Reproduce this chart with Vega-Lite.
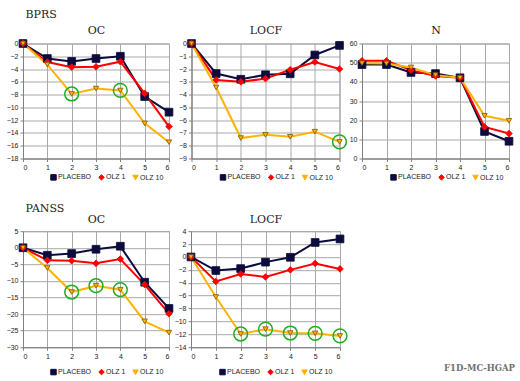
{
  "$schema": "https://vega.github.io/schema/vega-lite/v6.json",
  "background": "white",
  "padding": {"left": 5, "top": 7.5, "right": 5, "bottom": 5},
  "datasets": {
    "d": [
      {"p":"BPRS OC","g":"PLACEBO","w":0,"v":0,"c":0},
      {"p":"BPRS OC","g":"PLACEBO","w":1,"v":-2.35,"c":0},
      {"p":"BPRS OC","g":"PLACEBO","w":2,"v":-2.8,"c":0},
      {"p":"BPRS OC","g":"PLACEBO","w":3,"v":-2.35,"c":0},
      {"p":"BPRS OC","g":"PLACEBO","w":4,"v":-2.0,"c":0},
      {"p":"BPRS OC","g":"PLACEBO","w":5,"v":-8.3,"c":0},
      {"p":"BPRS OC","g":"PLACEBO","w":6,"v":-10.75,"c":0},
      {"p":"BPRS OC","g":"OLZ 1","w":0,"v":0,"c":0},
      {"p":"BPRS OC","g":"OLZ 1","w":1,"v":-2.9,"c":0},
      {"p":"BPRS OC","g":"OLZ 1","w":2,"v":-3.7,"c":0},
      {"p":"BPRS OC","g":"OLZ 1","w":3,"v":-3.65,"c":0},
      {"p":"BPRS OC","g":"OLZ 1","w":4,"v":-2.85,"c":0},
      {"p":"BPRS OC","g":"OLZ 1","w":5,"v":-7.8,"c":0},
      {"p":"BPRS OC","g":"OLZ 1","w":6,"v":-13.0,"c":0},
      {"p":"BPRS OC","g":"OLZ 10","w":0,"v":0,"c":0},
      {"p":"BPRS OC","g":"OLZ 10","w":1,"v":-3.3,"c":0},
      {"p":"BPRS OC","g":"OLZ 10","w":2,"v":-7.9,"c":1},
      {"p":"BPRS OC","g":"OLZ 10","w":3,"v":-7.05,"c":0},
      {"p":"BPRS OC","g":"OLZ 10","w":4,"v":-7.35,"c":1},
      {"p":"BPRS OC","g":"OLZ 10","w":5,"v":-12.5,"c":0},
      {"p":"BPRS OC","g":"OLZ 10","w":6,"v":-15.45,"c":0},

      {"p":"BPRS LOCF","g":"PLACEBO","w":0,"v":0,"c":0},
      {"p":"BPRS LOCF","g":"PLACEBO","w":1,"v":-2.35,"c":0},
      {"p":"BPRS LOCF","g":"PLACEBO","w":2,"v":-2.8,"c":0},
      {"p":"BPRS LOCF","g":"PLACEBO","w":3,"v":-2.45,"c":0},
      {"p":"BPRS LOCF","g":"PLACEBO","w":4,"v":-2.37,"c":0},
      {"p":"BPRS LOCF","g":"PLACEBO","w":5,"v":-0.9,"c":0},
      {"p":"BPRS LOCF","g":"PLACEBO","w":6,"v":-0.15,"c":0},
      {"p":"BPRS LOCF","g":"OLZ 1","w":0,"v":0,"c":0},
      {"p":"BPRS LOCF","g":"OLZ 1","w":1,"v":-2.85,"c":0},
      {"p":"BPRS LOCF","g":"OLZ 1","w":2,"v":-3.0,"c":0},
      {"p":"BPRS LOCF","g":"OLZ 1","w":3,"v":-2.75,"c":0},
      {"p":"BPRS LOCF","g":"OLZ 1","w":4,"v":-2.05,"c":0},
      {"p":"BPRS LOCF","g":"OLZ 1","w":5,"v":-1.45,"c":0},
      {"p":"BPRS LOCF","g":"OLZ 1","w":6,"v":-2.0,"c":0},
      {"p":"BPRS LOCF","g":"OLZ 10","w":0,"v":0,"c":0},
      {"p":"BPRS LOCF","g":"OLZ 10","w":1,"v":-3.45,"c":0},
      {"p":"BPRS LOCF","g":"OLZ 10","w":2,"v":-7.4,"c":0},
      {"p":"BPRS LOCF","g":"OLZ 10","w":3,"v":-7.15,"c":0},
      {"p":"BPRS LOCF","g":"OLZ 10","w":4,"v":-7.3,"c":0},
      {"p":"BPRS LOCF","g":"OLZ 10","w":5,"v":-6.9,"c":0},
      {"p":"BPRS LOCF","g":"OLZ 10","w":6,"v":-7.7,"c":1},

      {"p":"N","g":"PLACEBO","w":0,"v":49,"c":0},
      {"p":"N","g":"PLACEBO","w":1,"v":49,"c":0},
      {"p":"N","g":"PLACEBO","w":2,"v":44.9,"c":0},
      {"p":"N","g":"PLACEBO","w":3,"v":44.3,"c":0},
      {"p":"N","g":"PLACEBO","w":4,"v":42.1,"c":0},
      {"p":"N","g":"PLACEBO","w":5,"v":14.1,"c":0},
      {"p":"N","g":"PLACEBO","w":6,"v":9.0,"c":0},
      {"p":"N","g":"OLZ 1","w":0,"v":51,"c":0},
      {"p":"N","g":"OLZ 1","w":1,"v":51,"c":0},
      {"p":"N","g":"OLZ 1","w":2,"v":46.1,"c":0},
      {"p":"N","g":"OLZ 1","w":3,"v":43.1,"c":0},
      {"p":"N","g":"OLZ 1","w":4,"v":42.1,"c":0},
      {"p":"N","g":"OLZ 1","w":5,"v":16.5,"c":0},
      {"p":"N","g":"OLZ 1","w":6,"v":13.0,"c":0},
      {"p":"N","g":"OLZ 10","w":0,"v":49.7,"c":0},
      {"p":"N","g":"OLZ 10","w":1,"v":49.6,"c":0},
      {"p":"N","g":"OLZ 10","w":2,"v":47.5,"c":0},
      {"p":"N","g":"OLZ 10","w":3,"v":43.5,"c":0},
      {"p":"N","g":"OLZ 10","w":4,"v":42.1,"c":0},
      {"p":"N","g":"OLZ 10","w":5,"v":22.3,"c":0},
      {"p":"N","g":"OLZ 10","w":6,"v":19.7,"c":0},

      {"p":"PANSS OC","g":"PLACEBO","w":0,"v":0,"c":0},
      {"p":"PANSS OC","g":"PLACEBO","w":1,"v":-2.26,"c":0},
      {"p":"PANSS OC","g":"PLACEBO","w":2,"v":-1.75,"c":0},
      {"p":"PANSS OC","g":"PLACEBO","w":3,"v":-0.45,"c":0},
      {"p":"PANSS OC","g":"PLACEBO","w":4,"v":0.46,"c":0},
      {"p":"PANSS OC","g":"PLACEBO","w":5,"v":-10.4,"c":0},
      {"p":"PANSS OC","g":"PLACEBO","w":6,"v":-18.3,"c":0},
      {"p":"PANSS OC","g":"OLZ 1","w":0,"v":0,"c":0},
      {"p":"PANSS OC","g":"OLZ 1","w":1,"v":-3.8,"c":0},
      {"p":"PANSS OC","g":"OLZ 1","w":2,"v":-3.9,"c":0},
      {"p":"PANSS OC","g":"OLZ 1","w":3,"v":-4.7,"c":0},
      {"p":"PANSS OC","g":"OLZ 1","w":4,"v":-3.4,"c":0},
      {"p":"PANSS OC","g":"OLZ 1","w":5,"v":-11.1,"c":0},
      {"p":"PANSS OC","g":"OLZ 1","w":6,"v":-19.9,"c":0},
      {"p":"PANSS OC","g":"OLZ 10","w":0,"v":0,"c":0},
      {"p":"PANSS OC","g":"OLZ 10","w":1,"v":-6.1,"c":0},
      {"p":"PANSS OC","g":"OLZ 10","w":2,"v":-13.35,"c":1},
      {"p":"PANSS OC","g":"OLZ 10","w":3,"v":-11.45,"c":1},
      {"p":"PANSS OC","g":"OLZ 10","w":4,"v":-12.65,"c":1},
      {"p":"PANSS OC","g":"OLZ 10","w":5,"v":-22.2,"c":0},
      {"p":"PANSS OC","g":"OLZ 10","w":6,"v":-25.6,"c":0},

      {"p":"PANSS LOCF","g":"PLACEBO","w":0,"v":0,"c":0},
      {"p":"PANSS LOCF","g":"PLACEBO","w":1,"v":-2.1,"c":0},
      {"p":"PANSS LOCF","g":"PLACEBO","w":2,"v":-1.8,"c":0},
      {"p":"PANSS LOCF","g":"PLACEBO","w":3,"v":-0.8,"c":0},
      {"p":"PANSS LOCF","g":"PLACEBO","w":4,"v":-0.05,"c":0},
      {"p":"PANSS LOCF","g":"PLACEBO","w":5,"v":2.25,"c":0},
      {"p":"PANSS LOCF","g":"PLACEBO","w":6,"v":2.8,"c":0},
      {"p":"PANSS LOCF","g":"OLZ 1","w":0,"v":0,"c":0},
      {"p":"PANSS LOCF","g":"OLZ 1","w":1,"v":-3.8,"c":0},
      {"p":"PANSS LOCF","g":"OLZ 1","w":2,"v":-2.65,"c":0},
      {"p":"PANSS LOCF","g":"OLZ 1","w":3,"v":-3.1,"c":0},
      {"p":"PANSS LOCF","g":"OLZ 1","w":4,"v":-2.0,"c":0},
      {"p":"PANSS LOCF","g":"OLZ 1","w":5,"v":-1.0,"c":0},
      {"p":"PANSS LOCF","g":"OLZ 1","w":6,"v":-1.85,"c":0},
      {"p":"PANSS LOCF","g":"OLZ 10","w":0,"v":0,"c":0},
      {"p":"PANSS LOCF","g":"OLZ 10","w":1,"v":-6.2,"c":0},
      {"p":"PANSS LOCF","g":"OLZ 10","w":2,"v":-11.95,"c":1},
      {"p":"PANSS LOCF","g":"OLZ 10","w":3,"v":-11.2,"c":1},
      {"p":"PANSS LOCF","g":"OLZ 10","w":4,"v":-11.8,"c":1},
      {"p":"PANSS LOCF","g":"OLZ 10","w":5,"v":-11.85,"c":1},
      {"p":"PANSS LOCF","g":"OLZ 10","w":6,"v":-12.25,"c":1}
    ]
  },
  "data": {"name": "d"},
  "config": {
    "view": {"stroke": "#a0a0a0"},
    "axis": {"labelFont": "Liberation Sans", "labelFontSize": 7, "labelColor": "#222", "gridColor": "#a8a8a8", "domainColor": "#808080", "tickColor": "#808080", "tickSize": 3, "labelPadding": 2, "titleFont": "DejaVu Serif", "titleFontSize": 11, "titleFontWeight": "normal", "titleColor": "#222"},
    "title": {"font": "DejaVu Serif", "fontSize": 11, "fontWeight": "normal", "color": "#222"},
    "legend": {"direction": "horizontal", "title": null, "labelFont": "Liberation Sans", "labelFontSize": 7, "labelColor": "#222", "symbolSize": 30, "columnPadding": 4, "labelOffset": 1, "symbolStrokeWidth": 1}
  },
  "spacing": 17.7,
  "resolve": {"legend": {"color": "independent", "shape": "independent"}},
  "title": {"text": "F1D-MC-HGAP", "orient": "bottom", "anchor": "end", "font": "DejaVu Serif", "fontWeight": "bold", "fontSize": 8.5, "color": "#707070", "offset": 0, "dy": -14},
  "vconcat": [
    {
      "bounds": "flush",
      "spacing": 22.5,
      "resolve": {"legend": {"color": "independent", "shape": "independent"}},
      "hconcat": [
        {
          "width": 146, "height": 115,
          "transform": [{"filter": "datum.p == 'BPRS OC'"}],
          "resolve": {"axis": {"x": "independent"}},
          "encoding": {
            "y": {"field": "v", "type": "quantitative", "scale": {"domain": [-18, 0], "nice": false, "zero": false}, "axis": {"title": "BPRS", "titleAngle": 0, "titleAlign": "left", "titleBaseline": "middle", "titleX": 2, "titleY": -28.7, "values": [0,-2,-4,-6,-8,-10,-12,-14,-16,-18]}}
          },
          "layer": [
            {"mark": {"type": "line", "strokeWidth": 2}, "encoding": {
              "x": {"field": "w", "type": "quantitative", "scale": {"domain": [0, 6], "nice": false}, "axis": {"title": null, "values": [0,1,2,3,4,5,6], "format": "d"}},
              "color": {"field": "g", "type": "nominal", "scale": {"domain": ["PLACEBO","OLZ 1","OLZ 10"], "range": ["#0b0b3d","#ff0000","#ffb300"]}, "legend": {"orient": "none", "legendX": 27, "legendY": 130}}}},
            {"mark": {"type": "point", "filled": true, "opacity": 1, "strokeWidth": 0.8}, "encoding": {
              "x": {"field": "w", "type": "quantitative", "axis": {"orient": "top", "title": "OC", "labels": false, "ticks": false, "domain": false, "grid": false, "titleAngle": 0, "titleAlign": "center", "titleBaseline": "middle", "titleX": 73, "titleY": -12.7}},
              "color": {"field": "g", "type": "nominal", "scale": {"domain": ["PLACEBO","OLZ 1","OLZ 10"], "range": ["#0b0b3d","#ff0000","#ffb300"]}, "legend": {"orient": "none", "legendX": 27, "legendY": 130}},
              "shape": {"field": "g", "type": "nominal", "scale": {"domain": ["PLACEBO","OLZ 1","OLZ 10"], "range": ["square","diamond","triangle-down"]}, "legend": {"orient": "none", "legendX": 27, "legendY": 130}},
              "size": {"field": "g", "type": "nominal", "legend": null, "scale": {"domain": ["PLACEBO","OLZ 1","OLZ 10"], "range": [60, 28, 50]}},
              "stroke": {"field": "g", "type": "nominal", "legend": null, "scale": {"domain": ["PLACEBO","OLZ 1","OLZ 10"], "range": ["#0b0b3d","#ff0000","#7a5500"]}}
            }},
            {"transform": [{"filter": "datum.c == 1"}], "mark": {"type": "point", "shape": "circle", "filled": false, "stroke": "#1fae1f", "strokeWidth": 1.5, "size": 190, "opacity": 1}, "encoding": {"x": {"field": "w", "type": "quantitative", "axis": null}}}
          ]
        },
        {
          "width": 148, "height": 115,
          "transform": [{"filter": "datum.p == 'BPRS LOCF'"}],
          "resolve": {"axis": {"x": "independent"}},
          "encoding": {
            "y": {"field": "v", "type": "quantitative", "scale": {"domain": [-9, 0], "nice": false, "zero": false}, "axis": {"title": null, "values": [0,-1,-2,-3,-4,-5,-6,-7,-8,-9]}}
          },
          "layer": [
            {"mark": {"type": "line", "strokeWidth": 2}, "encoding": {
              "x": {"field": "w", "type": "quantitative", "scale": {"domain": [0, 6], "nice": false}, "axis": {"title": null, "values": [0,1,2,3,4,5,6], "format": "d"}},
              "color": {"field": "g", "type": "nominal", "scale": {"domain": ["PLACEBO","OLZ 1","OLZ 10"], "range": ["#0b0b3d","#ff0000","#ffb300"]}, "legend": {"orient": "none", "legendX": 28, "legendY": 130}}}},
            {"mark": {"type": "point", "filled": true, "opacity": 1, "strokeWidth": 0.8}, "encoding": {
              "x": {"field": "w", "type": "quantitative", "axis": {"orient": "top", "title": "LOCF", "labels": false, "ticks": false, "domain": false, "grid": false, "titleAngle": 0, "titleAlign": "center", "titleBaseline": "middle", "titleX": 74, "titleY": -12.7}},
              "color": {"field": "g", "type": "nominal", "scale": {"domain": ["PLACEBO","OLZ 1","OLZ 10"], "range": ["#0b0b3d","#ff0000","#ffb300"]}, "legend": {"orient": "none", "legendX": 28, "legendY": 130}},
              "shape": {"field": "g", "type": "nominal", "scale": {"domain": ["PLACEBO","OLZ 1","OLZ 10"], "range": ["square","diamond","triangle-down"]}, "legend": {"orient": "none", "legendX": 28, "legendY": 130}},
              "size": {"field": "g", "type": "nominal", "legend": null, "scale": {"domain": ["PLACEBO","OLZ 1","OLZ 10"], "range": [60, 28, 50]}},
              "stroke": {"field": "g", "type": "nominal", "legend": null, "scale": {"domain": ["PLACEBO","OLZ 1","OLZ 10"], "range": ["#0b0b3d","#ff0000","#7a5500"]}}
            }},
            {"transform": [{"filter": "datum.c == 1"}], "mark": {"type": "point", "shape": "circle", "filled": false, "stroke": "#1fae1f", "strokeWidth": 1.5, "size": 190, "opacity": 1}, "encoding": {"x": {"field": "w", "type": "quantitative", "axis": null}}}
          ]
        },
        {
          "width": 147, "height": 115,
          "transform": [{"filter": "datum.p == 'N'"}],
          "resolve": {"axis": {"x": "independent"}},
          "encoding": {
            "y": {"field": "v", "type": "quantitative", "scale": {"domain": [0, 60], "nice": false}, "axis": {"title": null, "values": [0,10,20,30,40,50,60]}}
          },
          "layer": [
            {"mark": {"type": "line", "strokeWidth": 2}, "encoding": {
              "x": {"field": "w", "type": "quantitative", "scale": {"domain": [0, 6], "nice": false}, "axis": {"title": null, "values": [0,1,2,3,4,5,6], "format": "d"}},
              "color": {"field": "g", "type": "nominal", "scale": {"domain": ["PLACEBO","OLZ 1","OLZ 10"], "range": ["#0b0b3d","#ff0000","#ffb300"]}, "legend": {"orient": "none", "legendX": 28, "legendY": 130}}}},
            {"mark": {"type": "point", "filled": true, "opacity": 1, "strokeWidth": 0.8}, "encoding": {
              "x": {"field": "w", "type": "quantitative", "axis": {"orient": "top", "title": "N", "labels": false, "ticks": false, "domain": false, "grid": false, "titleAngle": 0, "titleAlign": "center", "titleBaseline": "middle", "titleX": 73.5, "titleY": -12.7}},
              "color": {"field": "g", "type": "nominal", "scale": {"domain": ["PLACEBO","OLZ 1","OLZ 10"], "range": ["#0b0b3d","#ff0000","#ffb300"]}, "legend": {"orient": "none", "legendX": 28, "legendY": 130}},
              "shape": {"field": "g", "type": "nominal", "scale": {"domain": ["PLACEBO","OLZ 1","OLZ 10"], "range": ["square","diamond","triangle-down"]}, "legend": {"orient": "none", "legendX": 28, "legendY": 130}},
              "size": {"field": "g", "type": "nominal", "legend": null, "scale": {"domain": ["PLACEBO","OLZ 1","OLZ 10"], "range": [60, 28, 50]}},
              "stroke": {"field": "g", "type": "nominal", "legend": null, "scale": {"domain": ["PLACEBO","OLZ 1","OLZ 10"], "range": ["#0b0b3d","#ff0000","#7a5500"]}}
            }}
          ]
        }
      ]
    },
    {
      "bounds": "flush",
      "spacing": 22,
      "resolve": {"legend": {"color": "independent", "shape": "independent"}},
      "hconcat": [
        {
          "width": 146, "height": 116,
          "transform": [{"filter": "datum.p == 'PANSS OC'"}],
          "resolve": {"axis": {"x": "independent"}},
          "encoding": {
            "y": {"field": "v", "type": "quantitative", "scale": {"domain": [-30, 5], "nice": false, "zero": false}, "axis": {"title": "PANSS", "titleAngle": 0, "titleAlign": "left", "titleBaseline": "middle", "titleX": 2, "titleY": -22.7, "values": [5,0,-5,-10,-15,-20,-25,-30]}}
          },
          "layer": [
            {"mark": {"type": "line", "strokeWidth": 2}, "encoding": {
              "x": {"field": "w", "type": "quantitative", "scale": {"domain": [0, 6], "nice": false}, "axis": {"title": null, "values": [0,1,2,3,4,5,6], "format": "d"}},
              "color": {"field": "g", "type": "nominal", "scale": {"domain": ["PLACEBO","OLZ 1","OLZ 10"], "range": ["#0b0b3d","#ff0000","#ffb300"]}, "legend": {"orient": "none", "legendX": 27, "legendY": 137}}}},
            {"mark": {"type": "point", "filled": true, "opacity": 1, "strokeWidth": 0.8}, "encoding": {
              "x": {"field": "w", "type": "quantitative", "axis": {"orient": "top", "title": "OC", "labels": false, "ticks": false, "domain": false, "grid": false, "titleAngle": 0, "titleAlign": "center", "titleBaseline": "middle", "titleX": 73, "titleY": -11.7}},
              "color": {"field": "g", "type": "nominal", "scale": {"domain": ["PLACEBO","OLZ 1","OLZ 10"], "range": ["#0b0b3d","#ff0000","#ffb300"]}, "legend": {"orient": "none", "legendX": 27, "legendY": 137}},
              "shape": {"field": "g", "type": "nominal", "scale": {"domain": ["PLACEBO","OLZ 1","OLZ 10"], "range": ["square","diamond","triangle-down"]}, "legend": {"orient": "none", "legendX": 27, "legendY": 137}},
              "size": {"field": "g", "type": "nominal", "legend": null, "scale": {"domain": ["PLACEBO","OLZ 1","OLZ 10"], "range": [60, 28, 50]}},
              "stroke": {"field": "g", "type": "nominal", "legend": null, "scale": {"domain": ["PLACEBO","OLZ 1","OLZ 10"], "range": ["#0b0b3d","#ff0000","#7a5500"]}}
            }},
            {"transform": [{"filter": "datum.c == 1"}], "mark": {"type": "point", "shape": "circle", "filled": false, "stroke": "#1fae1f", "strokeWidth": 1.5, "size": 190, "opacity": 1}, "encoding": {"x": {"field": "w", "type": "quantitative", "axis": null}}}
          ]
        },
        {
          "width": 149, "height": 116,
          "transform": [{"filter": "datum.p == 'PANSS LOCF'"}],
          "resolve": {"axis": {"x": "independent"}},
          "encoding": {
            "y": {"field": "v", "type": "quantitative", "scale": {"domain": [-14, 4], "nice": false, "zero": false}, "axis": {"title": null, "values": [4,2,0,-2,-4,-6,-8,-10,-12,-14]}}
          },
          "layer": [
            {"mark": {"type": "line", "strokeWidth": 2}, "encoding": {
              "x": {"field": "w", "type": "quantitative", "scale": {"domain": [0, 6], "nice": false}, "axis": {"title": null, "values": [0,1,2,3,4,5,6], "format": "d"}},
              "color": {"field": "g", "type": "nominal", "scale": {"domain": ["PLACEBO","OLZ 1","OLZ 10"], "range": ["#0b0b3d","#ff0000","#ffb300"]}, "legend": {"orient": "none", "legendX": 28, "legendY": 137}}}},
            {"mark": {"type": "point", "filled": true, "opacity": 1, "strokeWidth": 0.8}, "encoding": {
              "x": {"field": "w", "type": "quantitative", "axis": {"orient": "top", "title": "LOCF", "labels": false, "ticks": false, "domain": false, "grid": false, "titleAngle": 0, "titleAlign": "center", "titleBaseline": "middle", "titleX": 74.5, "titleY": -11.7}},
              "color": {"field": "g", "type": "nominal", "scale": {"domain": ["PLACEBO","OLZ 1","OLZ 10"], "range": ["#0b0b3d","#ff0000","#ffb300"]}, "legend": {"orient": "none", "legendX": 28, "legendY": 137}},
              "shape": {"field": "g", "type": "nominal", "scale": {"domain": ["PLACEBO","OLZ 1","OLZ 10"], "range": ["square","diamond","triangle-down"]}, "legend": {"orient": "none", "legendX": 28, "legendY": 137}},
              "size": {"field": "g", "type": "nominal", "legend": null, "scale": {"domain": ["PLACEBO","OLZ 1","OLZ 10"], "range": [60, 28, 50]}},
              "stroke": {"field": "g", "type": "nominal", "legend": null, "scale": {"domain": ["PLACEBO","OLZ 1","OLZ 10"], "range": ["#0b0b3d","#ff0000","#7a5500"]}}
            }},
            {"transform": [{"filter": "datum.c == 1"}], "mark": {"type": "point", "shape": "circle", "filled": false, "stroke": "#1fae1f", "strokeWidth": 1.5, "size": 190, "opacity": 1}, "encoding": {"x": {"field": "w", "type": "quantitative", "axis": null}}}
          ]
        }
      ]
    }
  ]
}
